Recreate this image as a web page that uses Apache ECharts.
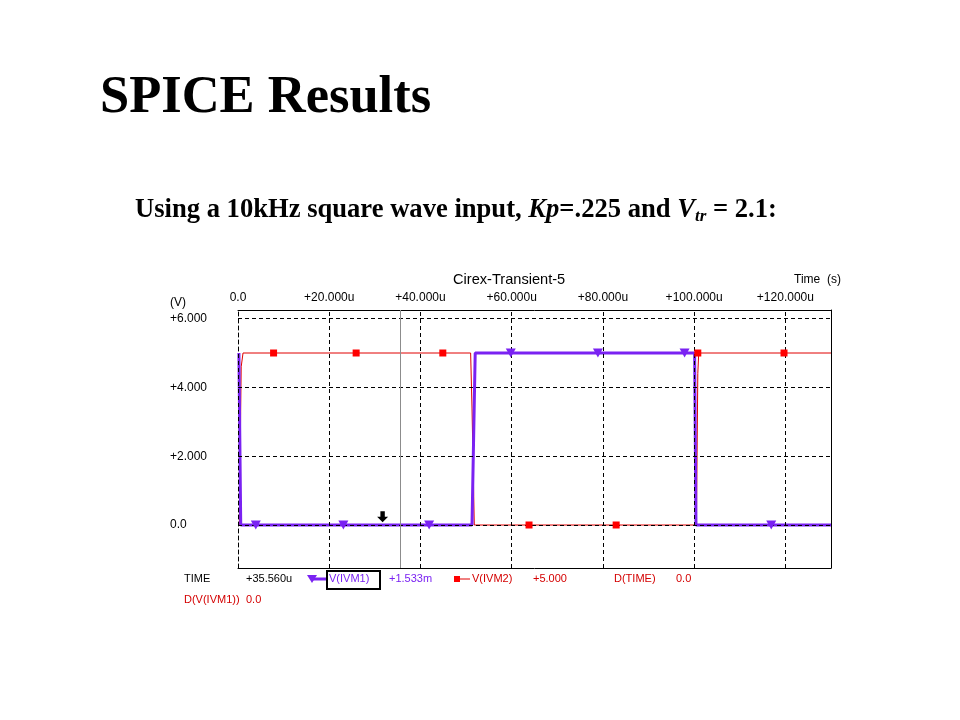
<!DOCTYPE html>
<html>
<head>
<meta charset="utf-8">
<script src="https://cdn.jsdelivr.net/npm/echarts@6/dist/echarts.min.js"></script>
<style>
html,body{margin:0;padding:0;background:#fff;}
#chart{width:960px;height:720px;}
</style>
</head>
<body>
<div id="chart"></div>
<script>
// ---- data ----
const xMin = 0, xMax = 130;
const xTickValues = [0, 20, 40, 60, 80, 100, 120];
const xTickLabels = ['0.0', '+20.000u', '+40.000u', '+60.000u', '+80.000u', '+100.000u', '+120.000u'];
const yMin = -1.25, yMax = 6.25;
const yTickValues = [0, 2, 4, 6];
const yTickLabels = ['0.0', '+2.000', '+4.000', '+6.000'];

// V(IVM1) waveform (time in us, volts)
const vIVM1 = [[0.2, 5], [0.6, 0], [51.3, 0], [52.0, 5], [100.1, 5], [100.4, 0], [130, 0]];
// V(IVM2) waveform
const vIVM2 = [[0.3, 0], [0.7, 4.6], [1.1, 5], [51.0, 5], [51.3, 3.4], [51.8, 0], [100.5, 0], [100.8, 4.4], [101.0, 5], [130, 5]];
// trace markers
const ivm1MarkerT = [3.9, 23.1, 41.9, 59.8, 78.9, 97.9, 116.9];
const ivm1MarkerV = [0, 0, 0, 5, 5, 5, 0];
const ivm2MarkerT = [7.8, 25.9, 44.9, 63.8, 82.9, 100.8, 119.7];
const ivm2MarkerV = [5, 5, 5, 0, 0, 5, 5];
// cursor
const cursorT = 35.56;
const arrowPoint = [31.7, 0.24];

// ---- styles ----
const PURPLE = '#7a22f2';
const RED = '#e00000';
const RED_TXT = '#d40000';
const FONT = '"Liberation Sans", Arial, sans-serif';
const SERIF = '"Liberation Serif", "Times New Roman", serif';

const chart = echarts.init(document.getElementById('chart'));

const gridMarks = [];
yTickValues.forEach(v => gridMarks.push({ yAxis: v }));
xTickValues.forEach(v => gridMarks.push({ xAxis: v }));

function txt(x, y, text, color, size, extra) {
  return Object.assign({
    type: 'text', x: x, y: y, z: 50,
    style: { text: text, fill: color || '#000', font: (size || 12) + 'px ' + FONT, textVerticalAlign: 'middle' }
  }, extra || {});
}

const option = {
  animation: false,
  backgroundColor: '#fff',
  grid: { left: 238, top: 310, width: 593, height: 258, show: false },
  xAxis: [
    {
      type: 'value', position: 'top', min: xMin, max: xMax, interval: 20,
      axisLine: { show: true, onZero: false, lineStyle: { color: '#000', width: 1 } },
      axisTick: { show: false },
      splitLine: { show: false },
      axisLabel: {
        color: '#000', fontSize: 12, fontFamily: FONT, margin: 6, showMaxLabel: false,
        formatter: v => { const i = xTickValues.indexOf(v); return i >= 0 ? xTickLabels[i] : ''; }
      }
    },
    {
      type: 'value', position: 'bottom', min: xMin, max: xMax, interval: 20,
      axisLine: { show: true, onZero: false, lineStyle: { color: '#000', width: 1 } },
      axisTick: { show: true, inside: true, length: 4, lineStyle: { color: '#000' } },
      splitLine: { show: false },
      axisLabel: { show: false }
    }
  ],
  yAxis: [
    {
      type: 'value', position: 'left', min: yMin, max: yMax,
      axisLine: { show: true, onZero: false, lineStyle: { color: '#000', width: 1, type: [4, 3] } },
      axisTick: { show: false },
      splitLine: { show: false },
      axisLabel: {
        customValues: yTickValues, align: 'left', margin: 68,
        color: '#000', fontSize: 12, fontFamily: FONT,
        formatter: v => { const i = yTickValues.indexOf(v); return i >= 0 ? yTickLabels[i] : ''; }
      }
    },
    {
      type: 'value', position: 'right', min: yMin, max: yMax,
      axisLine: { show: true, onZero: false, lineStyle: { color: '#000', width: 1 } },
      axisTick: { show: false }, splitLine: { show: false }, axisLabel: { show: false }
    }
  ],
  series: [
    {
      name: 'V(IVM2)', type: 'line', data: vIVM2, showSymbol: false, z: 2,
      lineStyle: { color: RED, width: 1 }
    },
    {
      name: 'V(IVM1)', type: 'line', data: vIVM1, showSymbol: false, z: 3,
      lineStyle: { color: PURPLE, width: 3 }
    },
    {
      name: 'grid', type: 'line', data: [], z: 4, silent: true,
      markLine: {
        silent: true, symbol: 'none', label: { show: false },
        lineStyle: { color: '#000', width: 1, type: [4, 3] },
        data: gridMarks
      }
    },
    {
      name: 'cursor', type: 'line', data: [], z: 4, silent: true,
      markLine: {
        silent: true, symbol: 'none', label: { show: false },
        lineStyle: { color: '#8c8c8c', width: 1, type: 'solid' },
        data: [{ xAxis: cursorT }]
      }
    },
    {
      name: 'm1', type: 'scatter', z: 6,
      data: ivm1MarkerT.map((t, i) => [t, ivm1MarkerV[i]]),
      symbol: 'triangle', symbolRotate: 180, symbolSize: [10, 9],
      itemStyle: { color: PURPLE, opacity: 1 }
    },
    {
      name: 'm2', type: 'scatter', z: 6,
      data: ivm2MarkerT.map((t, i) => [t, ivm2MarkerV[i]]),
      symbol: 'rect', symbolSize: 7,
      itemStyle: { color: '#ff0000', opacity: 1 }
    },
    {
      name: 'arrow', type: 'scatter', z: 7,
      data: [arrowPoint],
      symbol: 'path://M3,0 L7,0 L7,5 L10,5 L5,10 L0,5 L3,5 Z', symbolSize: [11, 11],
      itemStyle: { color: '#000', opacity: 1 }
    }
  ],
  graphic: [
    { type: 'text', x: 100, y: 98, z: 50, style: { text: 'SPICE Results', fill: '#000', font: 'bold 52.5px ' + SERIF, textVerticalAlign: 'middle' } },
    {
      type: 'text', x: 135, y: 210, z: 50,
      style: {
        text: '{b|Using a 10kHz square wave input, }{bi|Kp}{b|=.225 and }{bi|V}{sub|tr}{b| = 2.1:}',
        textVerticalAlign: 'middle',
        rich: {
          b: { fontFamily: SERIF, fontWeight: 'bold', fontSize: 26.6, color: '#000' },
          bi: { fontFamily: SERIF, fontWeight: 'bold', fontStyle: 'italic', fontSize: 26.6, color: '#000' },
          sub: { fontFamily: SERIF, fontWeight: 'bold', fontStyle: 'italic', fontSize: 17, color: '#000', padding: [14, 0, 0, 0] }
        }
      }
    },
    txt(453, 280, 'Cirex-Transient-5', '#000', 14.6),
    txt(794, 280, 'Time  (s)', '#000', 12),
    txt(170, 303, '(V)', '#000', 12),
    // bottom readout
    txt(184, 579, 'TIME', '#000', 11),
    txt(246, 579, '+35.560u', '#000', 11),
    { type: 'line', z: 50, shape: { x1: 312, y1: 579, x2: 327, y2: 579 }, style: { stroke: PURPLE, lineWidth: 3 } },
    { type: 'polygon', z: 50, shape: { points: [[307, 575], [317, 575], [312, 583]] }, style: { fill: PURPLE } },
    { type: 'rect', z: 50, shape: { x: 327, y: 571, width: 53, height: 18 }, style: { fill: 'none', stroke: '#000', lineWidth: 2 } },
    txt(329, 579, 'V(IVM1)', PURPLE, 11),
    txt(389, 579, '+1.533m', PURPLE, 11),
    { type: 'line', z: 50, shape: { x1: 456, y1: 579, x2: 470, y2: 579 }, style: { stroke: RED, lineWidth: 1 } },
    { type: 'rect', z: 50, shape: { x: 454, y: 576, width: 6, height: 6 }, style: { fill: '#ff0000' } },
    txt(472, 579, 'V(IVM2)', RED_TXT, 11),
    txt(533, 579, '+5.000', RED_TXT, 11),
    txt(614, 579, 'D(TIME)', RED_TXT, 11),
    txt(676, 579, '0.0', RED_TXT, 11),
    txt(184, 600, 'D(V(IVM1))', RED_TXT, 11),
    txt(246, 600, '0.0', RED_TXT, 11)
  ]
};
chart.setOption(option);
</script>
</body>
</html>
